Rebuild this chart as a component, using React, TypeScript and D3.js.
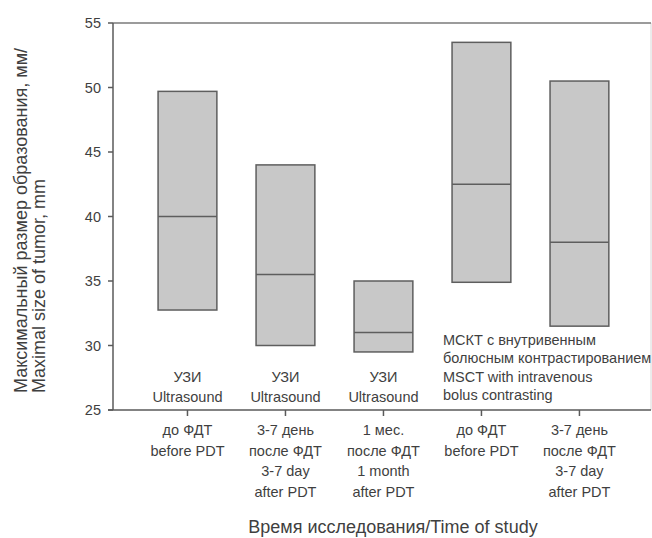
import React from "react";
import * as d3 from "d3";

const positions = [1, 2, 3, 4, 5];
const lowValues = [32.75, 30.0, 29.5, 34.9, 31.5];
const medianValues = [40.0, 35.5, 31.0, 42.5, 38.0];
const highValues = [49.7, 44.0, 35.0, 53.5, 50.5];
const categoryLabels = [
  ["до ФДТ", "before PDT"],
  ["3-7 день", "после ФДТ", "3-7 day", "after PDT"],
  ["1 мес.", "после ФДТ", "1 month", "after PDT"],
  ["до ФДТ", "before PDT"],
  ["3-7 день", "после ФДТ", "3-7 day", "after PDT"],
];
const usLabels = ["УЗИ", "Ultrasound"];
const usPositions = [1, 2, 3];
const msctLabels = [
  "МСКТ с внутривенным",
  "болюсным контрастированием",
  "MSCT with intravenous",
  "bolus contrasting",
];
const yTicks = [25, 30, 35, 40, 45, 50, 55];
const yTitle = ["Максимальный размер образования, мм/", "Maximal size of tumor, mm"];
const xTitle = "Время исследования/Time of study";

const W = 652;
const H = 538;
const left = 113;
const right = 650;
const top = 23;
const bottom = 410;
const font = "'Liberation Sans', Arial, sans-serif";
const textColor = "#3f3f3f";
const fs = 14.5;

export default function App() {
  const x = d3.scaleLinear().domain([0.24, 5.72]).range([left, right]);
  const y = d3.scaleLinear().domain([25, 55]).range([bottom, top]);
  const bw = x(1.6) - x(1);

  return (
    <svg
      width={W}
      height={H}
      style={{ position: "absolute", left: 0, top: 0, background: "#fff" }}
      fontFamily={font}
    >
      {/* frame */}
      <line x1={right + 1} x2={right + 1} y1={top} y2={bottom} stroke="#d8d8d8" strokeWidth={1} />
      <line x1={left} x2={right + 1} y1={top} y2={top} stroke="#7a7a7a" strokeWidth={1.5} />
      <line x1={left} x2={left} y1={top} y2={bottom} stroke="#5a5a5a" strokeWidth={1.5} />
      <line x1={left - 5} x2={right + 1} y1={bottom} y2={bottom} stroke="#5a5a5a" strokeWidth={1.5} />

      {/* y ticks */}
      {yTicks.map((t) => (
        <g key={t}>
          <line x1={left - 5} x2={left} y1={y(t)} y2={y(t)} stroke="#5a5a5a" strokeWidth={1.5} />
          <text x={left - 12} y={y(t) + 5} textAnchor="end" fontSize={fs} fill={textColor}>
            {t}
          </text>
        </g>
      ))}

      {/* boxes */}
      {positions.map((p, i) => (
        <g key={p}>
          <rect
            x={x(p) - bw / 2}
            y={y(highValues[i])}
            width={bw}
            height={y(lowValues[i]) - y(highValues[i])}
            fill="#c8c8c8"
            stroke="#5e5e5e"
            strokeWidth={1.5}
          />
          <line
            x1={x(p) - bw / 2}
            x2={x(p) + bw / 2}
            y1={y(medianValues[i])}
            y2={y(medianValues[i])}
            stroke="#5e5e5e"
            strokeWidth={1.5}
          />
          <line x1={x(p)} x2={x(p)} y1={bottom} y2={bottom + 6} stroke="#5a5a5a" strokeWidth={1.5} />
          {categoryLabels[i].map((l, j) => (
            <text
              key={j}
              x={x(p)}
              y={435 + j * 20.5}
              textAnchor="middle"
              fontSize={fs}
              fill={textColor}
            >
              {l}
            </text>
          ))}
        </g>
      ))}

      {/* method labels */}
      {usPositions.map((p) =>
        usLabels.map((l, j) => (
          <text
            key={p + "-" + j}
            x={x(p)}
            y={382 + j * 20}
            textAnchor="middle"
            fontSize={fs}
            fill={textColor}
          >
            {l}
          </text>
        ))
      )}
      {msctLabels.map((l, j) => (
        <text key={j} x={443} y={345 + j * 18.4} fontSize={fs} fill={textColor}>
          {l}
        </text>
      ))}

      {/* axis titles */}
      <text x={393} y={533} textAnchor="middle" fontSize={18} fill={textColor}>
        {xTitle}
      </text>
      {yTitle.map((l, j) => (
        <text
          key={j}
          transform={`translate(${27 + j * 17.5},393) rotate(-90)`}
          textAnchor="start"
          fontSize={18}
          fill={textColor}
        >
          {l}
        </text>
      ))}
    </svg>
  );
}
